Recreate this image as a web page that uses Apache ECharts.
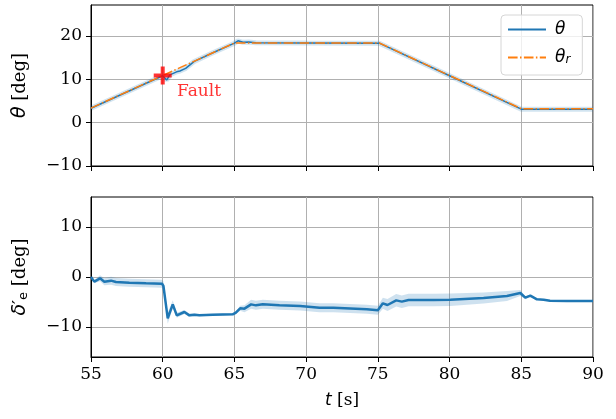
<!DOCTYPE html>
<html>
<head>
<meta charset="utf-8">
<script src="https://cdn.jsdelivr.net/npm/echarts@6/dist/echarts.min.js"></script>
<style>
html, body { margin: 0; padding: 0; background: #fff; }
#chart { width: 616px; height: 419px; }
</style>
</head>
<body>
<div id="chart"></div>
<script>
// top panel: pitch angle theta and reference theta_r
var tTheta = [55, 57, 60, 60.1, 60.27, 60.5, 60.97, 61.2, 61.6, 62.2, 63.5, 65.0, 65.25, 65.6, 66.0, 66.5, 70, 75.1, 80, 85.0, 87, 90];
var theta = [3.3, 6.3, 10.8, 10.75, 9.8, 11.0, 11.7, 11.9, 12.5, 14.1, 16.1, 18.3, 18.85, 18.5, 18.55, 18.4, 18.35, 18.3, 10.8, 3.1, 3.1, 3.1];
var tRef = [55, 65, 75.1, 85, 90];
var thetaRef = [3.35, 18.35, 18.35, 3.2, 3.2];

// bottom panel: delta'_e and its spread
var tDelta = [55, 55.23, 55.63, 55.93, 56.4, 56.74, 57.67, 58.84, 59.95, 60.05, 60.35, 60.7, 60.98, 61.51, 61.86, 62.21, 62.56, 63.49, 64.88,
              65.1, 65.4, 65.7, 66.16, 66.5, 66.98, 68.14, 69.58, 70.93, 71.9, 74.23, 75.0, 75.35, 75.67, 76.28, 76.67, 77.14, 78.88, 80.05,
              82.37, 84.0, 84.93, 85.28, 85.63, 86.09, 86.56, 87.0, 88.19, 90];
var deltaE = [0, -0.93, -0.27, -0.93, -0.73, -1.0, -1.13, -1.27, -1.33, -1.8, -8.27, -5.47, -7.67, -7.0, -7.67, -7.53, -7.67, -7.53, -7.47,
              -7.13, -6.27, -6.33, -5.47, -5.67, -5.47, -5.67, -5.8, -6.13, -6.13, -6.47, -6.67, -5.27, -5.6, -4.67, -4.93, -4.6, -4.6, -4.53,
              -4.2, -3.8, -3.2, -4.13, -3.73, -4.47, -4.53, -4.73, -4.8, -4.8];
var deltaBand = [0.1, 0.3, 0.6, 0.7, 0.8, 0.8, 0.8, 0.8, 0.8, 0.9, 1.1, 0.8, 0.5, 0.4, 0.3, 0.25, 0.2, 0.2, 0.2,
                 0.3, 0.5, 0.7, 0.9, 0.9, 0.9, 0.9, 0.9, 0.9, 0.9, 0.9, 0.9, 1.1, 1.2, 1.25, 1.25, 1.25, 1.25, 1.25,
                 1.1, 1.0, 0.6, 0.3, 0.2, 0.15, 0.1, 0.1, 0.1, 0.1];

var faultPoint = [60, 10.85];
var faultText = [61.0, 7.2];

var yTicksTop = [-10, 0, 10, 20];
var yTicksBottom = [-10, 0, 10];

function pairs(xs, ys) {
    return xs.map(function (x, i) { return [x, ys[i]]; });
}
function minus(v) {
    return String(v).replace('-', '\u2212');
}

var serif = 'DejaVu Serif';
var mathFont = { fontFamily: 'DejaVu Sans', fontStyle: 'italic', fontSize: 17, color: '#000' };
var subFont = { fontFamily: 'DejaVu Sans', fontStyle: 'italic', fontSize: 12, color: '#000', verticalAlign: 'bottom' };
var romanFont = { fontFamily: serif, fontSize: 17, color: '#000' };
// y axis names are drawn a touch larger
var nameMath = { fontFamily: 'DejaVu Sans', fontStyle: 'italic', fontSize: 19, color: '#000' };
var nameSub = { fontFamily: 'DejaVu Sans', fontSize: 13, color: '#000', verticalAlign: 'bottom' };
var nameRoman = { fontFamily: serif, fontSize: 18, color: '#000' };
var namePrime = { fontFamily: 'DejaVu Sans', fontSize: 18, color: '#000' };

function xAxisOf(idx, withLabels) {
    return {
        type: 'value',
        gridIndex: idx,
        min: 55,
        max: 90,
        interval: 5,
        axisLine: { show: true, onZero: false, lineStyle: { color: '#000', width: 1 } },
        axisTick: { show: true, length: 5, lineStyle: { color: '#000', width: 1 } },
        axisLabel: {
            show: withLabels,
            margin: 9,
            fontFamily: serif,
            fontSize: 17,
            color: '#000'
        },
        splitLine: { show: true, lineStyle: { color: '#b0b0b0', width: 1 } },
        name: withLabels ? '{i|t}{r| [s]}' : '',
        nameLocation: 'middle',
        nameGap: 35,
        nameTextStyle: { fontFamily: serif, fontSize: 17, color: '#000', rich: { i: mathFont, r: romanFont } }
    };
}

function yAxisOf(idx, opts) {
    return Object.assign({
        type: 'value',
        gridIndex: idx,
        axisLine: { show: true, onZero: false, lineStyle: { color: '#000', width: 1 } },
        axisTick: { show: true, length: 5, customValues: opts.ticks, lineStyle: { color: '#000', width: 1 } },
        axisLabel: {
            customValues: opts.ticks,
            margin: 9,
            fontFamily: serif,
            fontSize: 17,
            color: '#000',
            formatter: minus
        },
        splitLine: { show: true, lineStyle: { color: '#b0b0b0', width: 1 } },
        nameLocation: 'middle',
        nameGap: 61,
        nameTextStyle: {
            fontFamily: serif, fontSize: 18, color: '#000',
            rich: { i: nameMath, s: nameSub, p: namePrime, r: nameRoman }
        }
    }, opts.extra);
}

var chart = echarts.init(document.getElementById('chart'));

var option = {
    animation: false,
    backgroundColor: '#fff',
    grid: [
        { left: 91, top: 5, width: 502, height: 161, show: true, borderColor: '#000', borderWidth: 1, backgroundColor: 'transparent' },
        { left: 91, top: 197, width: 502, height: 160, show: true, borderColor: '#000', borderWidth: 1, backgroundColor: 'transparent' }
    ],
    xAxis: [xAxisOf(0, false), xAxisOf(1, true)],
    yAxis: [
        yAxisOf(0, { ticks: yTicksTop, extra: { min: -10, max: 27.1, interval: 10, name: '{i|θ}{r| [deg]}' } }),
        yAxisOf(1, { ticks: yTicksBottom, extra: { min: -16, max: 16, splitNumber: 3, name: '{i|δ}{p|′}{s|e}{r| [deg]}' } })
    ],
    legend: {
        orient: 'vertical',
        left: 501,
        top: 15,
        padding: [6, 12, 9, 6],
        itemWidth: 38,
        itemHeight: 14,
        itemGap: 11,
        borderColor: '#d6d6d6',
        borderWidth: 1,
        borderRadius: 4,
        backgroundColor: 'rgba(255,255,255,0.8)',
        itemStyle: { opacity: 0 },
        data: ['θ', 'θr'],
        formatter: function (name) {
            return name === 'θ' ? '{m|θ}' : '{m|θ}{s|r}';
        },
        textStyle: {
            color: '#000',
            padding: [0, 0, 0, 4],
            rich: { m: mathFont, s: subFont }
        }
    },
    series: [
        {
            name: 'θ band',
            type: 'line',
            xAxisIndex: 0, yAxisIndex: 0,
            data: pairs(tTheta, theta),
            symbol: 'none',
            lineStyle: { color: 'rgba(31,119,180,0.2)', width: 5 },
            z: 1,
            silent: true
        },
        {
            name: 'θ',
            type: 'line',
            xAxisIndex: 0, yAxisIndex: 0,
            data: pairs(tTheta, theta),
            symbol: 'none',
            color: '#1f77b4',
            lineStyle: { color: '#1f77b4', width: 1.5 },
            z: 2
        },
        {
            name: 'θr',
            type: 'line',
            xAxisIndex: 0, yAxisIndex: 0,
            data: pairs(tRef, thetaRef),
            symbol: 'none',
            color: '#ff7f0e',
            lineStyle: { color: '#ff7f0e', width: 1.5, type: [9.6, 2.4, 1.5, 2.4] },
            z: 3
        },
        {
            name: 'fault',
            type: 'scatter',
            xAxisIndex: 0, yAxisIndex: 0,
            data: [faultPoint],
            symbol: 'path://M7,0H11V7H18V11H11V18H7V11H0V7H7Z',
            symbolSize: 18,
            itemStyle: { color: '#ff0000' },
            z: 5
        },
        {
            name: 'fault label',
            type: 'scatter',
            xAxisIndex: 0, yAxisIndex: 0,
            data: [faultText],
            symbolSize: 0,
            label: {
                show: true,
                position: 'right',
                distance: 0,
                formatter: 'Fault',
                fontFamily: serif,
                fontSize: 17,
                color: '#ff0000'
            },
            z: 5
        },
        {
            name: 'δ spread',
            type: 'custom',
            xAxisIndex: 1, yAxisIndex: 1,
            data: pairs(tDelta, deltaE),
            silent: true,
            z: 1,
            renderItem: function (params, api) {
                if (params.dataIndex !== 0) return null;
                var pts = [];
                for (var i = 0; i < tDelta.length; i++) {
                    pts.push(api.coord([tDelta[i], deltaE[i] + deltaBand[i]]));
                }
                for (var j = tDelta.length - 1; j >= 0; j--) {
                    pts.push(api.coord([tDelta[j], deltaE[j] - deltaBand[j]]));
                }
                return {
                    type: 'polygon',
                    shape: { points: pts },
                    style: { fill: 'rgba(31,119,180,0.22)' }
                };
            }
        },
        {
            name: 'δe',
            type: 'line',
            xAxisIndex: 1, yAxisIndex: 1,
            data: pairs(tDelta, deltaE),
            symbol: 'none',
            lineStyle: { color: '#1f77b4', width: 2.5 },
            z: 3
        }
    ]
};
chart.setOption(option);
</script>
</body>
</html>
